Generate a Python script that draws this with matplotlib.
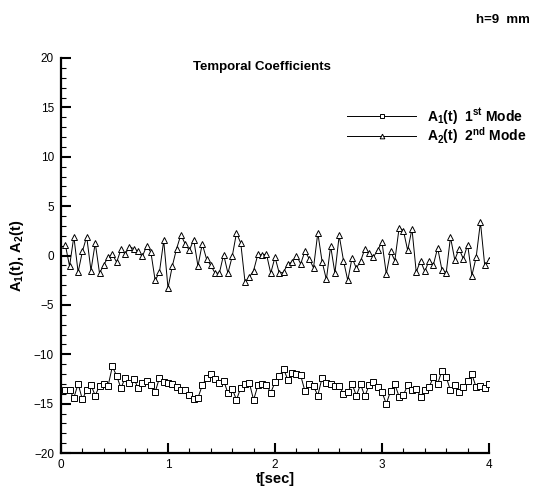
import numpy as np
import matplotlib.pyplot as plt

plt.rcParams['font.family'] = ['Liberation Sans', 'DejaVu Sans']
plt.rcParams['mathtext.fontset'] = 'custom'
plt.rcParams['mathtext.rm'] = 'Liberation Sans'
plt.rcParams['mathtext.bf'] = 'Liberation Sans:bold'
plt.rcParams['mathtext.default'] = 'bf'

# sample times [sec]
t = np.arange(1, 101) * 0.04

# first mode temporal coefficient
a1 = [-13.67, -13.67, -14.41, -13.0, -14.58, -13.6, -13.13, -14.18, -13.2, -13.0,
      -13.2, -11.24, -12.18, -13.43, -12.39, -12.9, -12.46, -13.4, -12.9, -12.73,
      -13.1, -13.84, -12.39, -12.76, -12.9, -13.0, -13.27, -13.57, -13.67, -14.08,
      -14.51, -14.41, -13.16, -12.39, -11.98, -12.49, -12.9, -12.66, -13.94, -13.5,
      -14.62, -13.4, -13.0, -12.9, -14.62, -13.16, -13.0, -13.1, -13.9, -12.83,
      -12.25, -11.48, -12.59, -11.88, -11.98, -12.15, -13.74, -13.0, -13.23, -14.18,
      -12.39, -12.9, -13.0, -13.23, -13.23, -14.01, -13.84, -13.0, -14.18, -13.06,
      -14.25, -13.13, -12.83, -13.27, -13.84, -15.02, -13.74, -13.06, -14.28, -14.11,
      -13.13, -13.67, -13.5, -14.28, -13.67, -13.33, -12.32, -13.0, -11.65, -12.32,
      -13.67, -13.1, -13.84, -13.33, -12.66, -12.05, -13.33, -13.2, -13.4, -13.06]

# second mode temporal coefficient
a2 = [1.11, -1.08, 1.92, -1.69, 0.41, 1.92, -1.52, 1.28, -1.79, -0.95,
      -0.17, 0.14, -0.68, 0.61, 0.14, 0.91, 0.68, 0.41, -0.1, 0.95,
      0.34, -2.53, -1.69, 1.52, -3.3, -1.08, 0.68, 2.09, 1.18, 0.51,
      1.62, -1.08, 1.18, -0.34, -1.01, -1.79, -1.79, 0.1, -1.79, -0.1,
      2.29, 1.25, -2.7, -2.19, -1.52, 0.12, 0.05, 0.15, -1.79, -0.17,
      -1.79, -1.69, -0.84, -0.68, 0.0, -0.84, 0.44, -0.34, -1.25, 2.29,
      -0.61, -2.43, 0.95, -1.79, 2.03, -0.51, -2.53, -0.24, -1.28, -0.57,
      0.68, 0.24, -0.17, 0.57, 1.35, -1.86, 0.41, -0.51, 2.8, 2.53,
      0.51, 2.7, -1.69, -0.51, -1.62, -0.51, -0.95, 0.78, -1.45, -1.76,
      1.86, -0.44, 0.68, -0.34, 1.11, -2.03, -0.17, 3.38, -1.01, -0.47]

fig = plt.figure(figsize=(5.49, 4.93), dpi=100)
ax = fig.add_axes([61/549, 1 - 453/493, 428/549, 395/493])

ax.plot(t, a1, color='black', lw=0.7, marker='s', ms=3.8, mfc='white',
        mec='black', mew=0.7, label=r'A$_1$(t)  1$^{st}$ Mode')
ax.plot(t, a2, color='black', lw=0.7, marker='^', ms=4.2, mfc='white',
        mec='black', mew=0.7, label=r'A$_2$(t)  2$^{nd}$ Mode')

ax.set_xlim(0, 4)
ax.set_ylim(-20, 20)
ax.set_xticks([0, 1, 2, 3, 4])
ax.set_xticks(np.arange(0, 4.01, 0.2), minor=True)
ax.set_yticks(np.arange(-20, 21, 5))
ax.set_yticks(np.arange(-20, 21, 1), minor=True)

for s in ['top', 'right']:
    ax.spines[s].set_visible(False)
for s in ['left', 'bottom']:
    ax.spines[s].set_linewidth(1.6)

ax.tick_params(which='major', direction='in', length=7, width=1.5,
               labelsize=8.5, pad=4)
ax.tick_params(which='minor', direction='in', length=3.6, width=0.8)
ax.tick_params(axis='y', which='major', pad=5)

ax.set_xlabel('t[sec]', fontsize=10.5, fontweight='bold', labelpad=1)
ax.set_ylabel(r'A$_1$(t), A$_2$(t)', fontsize=10.5, fontweight='bold', labelpad=6)

# legend sits partly outside the axes, to the right
leg = ax.legend(loc='upper left', bbox_to_anchor=(347/549, 1 - 106/493),
                bbox_transform=fig.transFigure, frameon=False,
                fontsize=10, handlelength=5.0, handletextpad=0.75,
                labelspacing=-0.1, numpoints=1, borderpad=0, borderaxespad=0,
                markerscale=0.8)
for txt in leg.get_texts():
    txt.set_fontweight('bold')

fig.text(262/549, 1 - 67/493, 'Temporal Coefficients', ha='center', va='center',
         fontsize=9.5, fontweight='bold')
fig.text(530/549, 1 - 20/493, 'h=9  mm', ha='right', va='center',
         fontsize=9.5, fontweight='bold')

fig.savefig('out.png', dpi=100)
